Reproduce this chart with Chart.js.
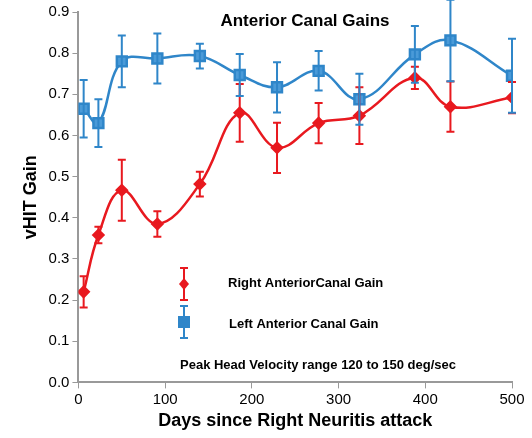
<!DOCTYPE html>
<html>
<head>
<meta charset="UTF-8">
<script src="https://cdn.jsdelivr.net/npm/chart.js"></script>
<style>
  body { margin: 0; background: #fff; }
  #wrap { width: 532px; height: 438px; }
</style>
</head>
<body>
<div id="wrap"><canvas id="c"></canvas></div>
<script>
const days = [6, 23, 50, 91, 140, 186, 229, 277, 324, 388, 429, 500];
const leftGain = [0.665, 0.630, 0.780, 0.787, 0.793, 0.747, 0.717, 0.757, 0.688, 0.797, 0.831, 0.745];
const leftErr  = [0.070, 0.058, 0.063, 0.061, 0.030, 0.051, 0.061, 0.048, 0.062, 0.069, 0.099, 0.090];
const rightGain = [0.220, 0.358, 0.467, 0.385, 0.482, 0.655, 0.570, 0.630, 0.648, 0.740, 0.670, 0.692];
const rightErr  = [0.038, 0.020, 0.074, 0.031, 0.030, 0.070, 0.061, 0.049, 0.069, 0.027, 0.061, 0.038];
const xTicks = [0, 100, 200, 300, 400, 500];

const RED = '#e8191f', BLUE = '#2f86c9';

const errorBars = {
  id: 'errorBars',
  afterDatasetsDraw(chart) {
    const ctx = chart.ctx, xs = chart.scales.x, ys = chart.scales.y;
    const sets = [[days, rightGain, rightErr, RED], [days, leftGain, leftErr, BLUE]];
    ctx.save();
    ctx.lineWidth = 2;
    sets.forEach(([dx, v, e, col]) => {
      ctx.strokeStyle = col;
      dx.forEach((d, i) => {
        const x = xs.getPixelForValue(d);
        const y1 = ys.getPixelForValue(v[i] + e[i]);
        const y2 = ys.getPixelForValue(v[i] - e[i]);
        ctx.beginPath();
        ctx.moveTo(x, y1); ctx.lineTo(x, y2);
        ctx.moveTo(x - 4, y1); ctx.lineTo(x + 4, y1);
        ctx.moveTo(x - 4, y2); ctx.lineTo(x + 4, y2);
        ctx.stroke();
      });
    });
    // title, legend and note
    ctx.fillStyle = '#000';
    ctx.font = 'bold 17px Arial, "Liberation Sans"';
    ctx.textAlign = 'center';
    ctx.textBaseline = 'middle';
    ctx.fillText('Anterior Canal Gains', 305, 21);
    ctx.font = 'bold 13px Arial, "Liberation Sans"';
    ctx.textAlign = 'left';
    ctx.fillText('Right AnteriorCanal Gain', 228, 283);
    ctx.fillText('Left Anterior Canal Gain', 229, 324);
    ctx.fillText('Peak Head Velocity range 120 to 150 deg/sec', 180, 365);
    // legend markers
    ctx.strokeStyle = RED; ctx.fillStyle = RED;
    ctx.beginPath();
    ctx.moveTo(184, 268); ctx.lineTo(184, 300);
    ctx.moveTo(180, 268); ctx.lineTo(188, 268);
    ctx.moveTo(180, 300); ctx.lineTo(188, 300);
    ctx.stroke();
    ctx.beginPath();
    ctx.moveTo(184, 278); ctx.lineTo(189, 284); ctx.lineTo(184, 290); ctx.lineTo(179, 284);
    ctx.closePath(); ctx.fill();
    ctx.strokeStyle = BLUE; ctx.fillStyle = BLUE;
    ctx.beginPath();
    ctx.moveTo(184, 306); ctx.lineTo(184, 338);
    ctx.moveTo(180, 306); ctx.lineTo(188, 306);
    ctx.moveTo(180, 338); ctx.lineTo(188, 338);
    ctx.stroke();
    ctx.fillRect(178, 316, 12, 12);
    ctx.restore();
  }
};

new Chart(document.getElementById('c'), {
  type: 'line',
  data: {
    datasets: [
      {
        label: 'Right AnteriorCanal Gain',
        data: days.map((d, i) => ({ x: d, y: rightGain[i] })),
        borderColor: RED, backgroundColor: RED, borderWidth: 2.5,
        pointStyle: 'rectRot', pointRadius: 5, tension: 0.4
      },
      {
        label: 'Left Anterior Canal Gain',
        data: days.map((d, i) => ({ x: d, y: leftGain[i] })),
        borderColor: BLUE, backgroundColor: '#4a9ad8', borderWidth: 2.5,
        pointStyle: 'rect', pointRadius: 7, tension: 0.4
      }
    ]
  },
  options: {
    responsive: true, maintainAspectRatio: false, animation: false,
    layout: { padding: { top: 10, right: 20, left: 16, bottom: 2 } },
    plugins: { legend: { display: false }, tooltip: { enabled: false } },
    scales: {
      x: {
        type: 'linear', min: 0, max: 500,
        afterBuildTicks: s => { s.ticks = xTicks.map(v => ({ value: v })); },
        grid: { drawOnChartArea: false, color: '#999', tickLength: 6 },
        border: { color: '#999', width: 2 },
        ticks: { color: '#000', font: { size: 15, family: 'Arial' }, padding: 2 },
        title: { display: true, text: 'Days since Right Neuritis attack', color: '#000',
                 font: { size: 18, weight: 'bold', family: 'Arial' }, padding: { top: 0 } }
      },
      y: {
        min: 0, max: 0.9,
        grid: { drawOnChartArea: false, color: '#999', tickLength: 6 },
        border: { color: '#999', width: 2 },
        ticks: { stepSize: 0.1, color: '#000', font: { size: 15, family: 'Arial' },
                 callback: v => v.toFixed(1) },
        title: { display: true, text: 'vHIT Gain', color: '#000',
                 font: { size: 18, weight: 'bold', family: 'Arial' }, padding: { bottom: 4 } }
      }
    }
  },
  plugins: [errorBars]
});
</script>
</body>
</html>
